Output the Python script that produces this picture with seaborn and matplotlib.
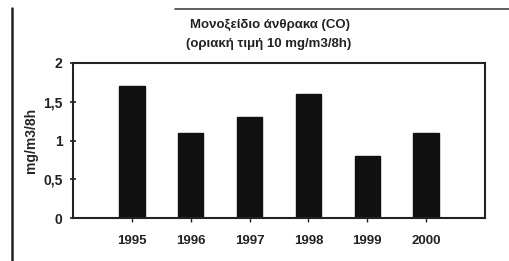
import matplotlib
matplotlib.use("Agg")
import matplotlib.pyplot as plt
import seaborn as sns
import pandas as pd
from matplotlib.lines import Line2D

years = ["1995", "1996", "1997", "1998", "1999", "2000"]
values = [1.7, 1.1, 1.3, 1.6, 0.8, 1.1]
yticks = [0, 0.5, 1, 1.5, 2]
ytick_labels = ["0", "0,5", "1", "1,5", "2"]
title1 = "Μονοξείδιο άνθρακα (CO)"
title2 = "(οριακή τιμή 10 mg/m3/8h)"
ylabel = "mg/m3/8h"

sns.set_theme(style="white")
plt.rcParams["font.family"] = ["Liberation Sans", "DejaVu Sans"]

df = pd.DataFrame({"year": years, "value": values})

fig = plt.figure(figsize=(5.09, 2.61), dpi=100)
ax = fig.add_axes([73/509, 1-218/261, (485-73)/509, (218-63)/261])
sns.barplot(data=df, x="year", y="value", color="#111111", width=0.43,
            saturation=1, ax=ax, edgecolor="#111111")
ax.set_xlim(-1, 6)
ax.set_ylim(0, 2)
ax.set_yticks(yticks)
ax.set_yticklabels(ytick_labels, fontsize=10, fontweight="bold")
for lab in ax.get_xticklabels():
    lab.set_fontsize(9.5)
    lab.set_fontweight("bold")
ax.set_xlabel("")
ax.set_ylabel(ylabel, fontsize=10, fontweight="bold", labelpad=4)
for s in ax.spines.values():
    s.set_visible(True)
    s.set_color("#222222")
    s.set_linewidth(1.5)
ax.tick_params(axis="y", direction="inout", length=5, width=1.2, left=True,
               colors="#222222", pad=5)
ax.tick_params(axis="x", direction="out", length=3, width=1.0, bottom=True,
               colors="#222222", pad=9)
ax.set_facecolor("white")

fig.text(270/509, 1-25/261, title1, ha="center", va="center",
         fontsize=9.5, fontweight="bold", color="#222222")
fig.text(269/509, 1-44/261, title2, ha="center", va="center",
         fontsize=9.5, fontweight="bold", color="#222222")

# scan frame lines
fig.add_artist(Line2D([12/509, 12/509], [0, 1-8/261], color="#222222", lw=1.8))
fig.add_artist(Line2D([175/509, 1], [1-9/261, 1-9/261], color="#444444", lw=1.2))

fig.savefig("out.png", dpi=100, facecolor="white")
